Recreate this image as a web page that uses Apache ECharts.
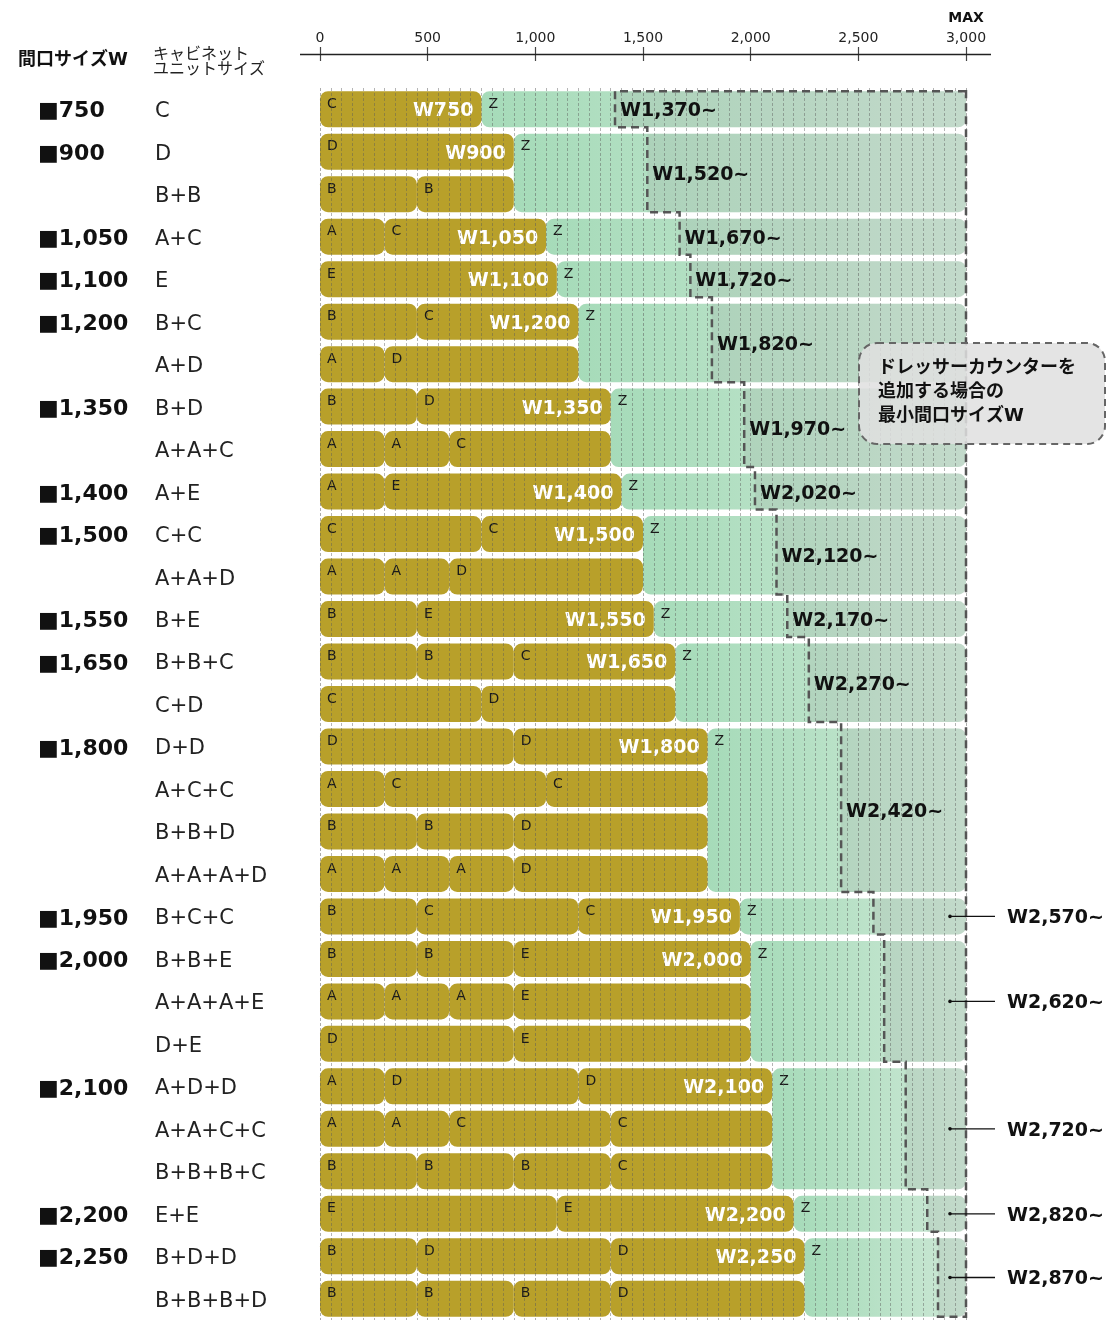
<!DOCTYPE html>
<html>
<head>
<meta charset="utf-8">
<script src="https://cdn.jsdelivr.net/npm/echarts@6/dist/echarts.min.js"></script>
<style>
html,body{margin:0;padding:0;background:#fff}
#chart{width:1110px;height:1322px}
</style>
</head>
<body>
<div id="chart"></div>
<script>
// Cabinet unit widths (mm)
const unitNames = ['A', 'B', 'C', 'D', 'E'];
const unitWidths = [300, 450, 750, 900, 1100];

// One row per cabinet combination, top to bottom
const rowUnits = ['C', 'D', 'B+B', 'A+C', 'E', 'B+C', 'A+D', 'B+D', 'A+A+C', 'A+E',
  'C+C', 'A+A+D', 'B+E', 'B+B+C', 'C+D', 'D+D', 'A+C+C', 'B+B+D', 'A+A+A+D',
  'B+C+C', 'B+B+E', 'A+A+A+E', 'D+E', 'A+D+D', 'A+A+C+C', 'B+B+B+C', 'E+E',
  'B+D+D', 'B+B+B+D'];

// Opening widths, how many combinations share each, and the minimum opening with a dresser counter
const groupSizes = [750, 900, 1050, 1100, 1200, 1350, 1400, 1500, 1550, 1650, 1800, 1950, 2000, 2100, 2200, 2250];
const groupRowCounts = [1, 2, 1, 1, 2, 2, 1, 2, 1, 2, 4, 1, 3, 3, 1, 2];
const dresserMinSizes = [1370, 1520, 1670, 1720, 1820, 1970, 2020, 2120, 2170, 2270, 2420, 2570, 2620, 2720, 2820, 2870];
const maxWidth = 3000;
const xTickStep = 500;
const xGridStep = 50;
const leaderLabelFrom = 1950;

const LATIN = '"DejaVu Sans", "Noto Sans CJK JP", sans-serif';
const BAR_RATIO = 0.8475;
const GOLD = '#b8a02a';
const fmt = v => v.toLocaleString('en-US');

// group membership of every row
const rowGroup = [], groupFirstRow = [], groupLastRow = [];
let rowCursor = 0;
groupRowCounts.forEach((n, g) => {
  groupFirstRow.push(rowCursor);
  for (let i = 0; i < n; i++) rowGroup.push(g);
  rowCursor += n;
  groupLastRow.push(rowCursor - 1);
});

// cabinet segments [start, end, row]
const segments = [], segLetters = [], segSizeLabels = [];
rowUnits.forEach((combo, row) => {
  const parts = combo.split('+');
  let x = 0;
  parts.forEach((u, i) => {
    const w = unitWidths[unitNames.indexOf(u)];
    const g = rowGroup[row];
    segments.push([x, x + w, row]);
    segLetters.push(u);
    segSizeLabels.push(i === parts.length - 1 && groupFirstRow[g] === row ? 'W' + fmt(groupSizes[g]) : '');
    x += w;
  });
});

// dresser zone per group [groupSize, max, firstRow, lastRow, dresserMin]
const zones = groupSizes.map((s, g) => [s, maxWidth, groupFirstRow[g], groupLastRow[g], dresserMinSizes[g]]);

function renderCabinet(params, api) {
  const i = params.dataIndex;
  const p0 = api.coord([api.value(0), api.value(2)]);
  const p1 = api.coord([api.value(1), api.value(2)]);
  const h = api.size([0, 1])[1] * BAR_RATIO;
  const top = p0[1] - h / 2;
  const children = [{
    type: 'rect',
    shape: { x: p0[0], y: top, width: p1[0] - p0[0], height: h, r: 8 },
    style: { fill: GOLD }
  }, {
    type: 'text',
    style: { text: segLetters[i], x: p0[0] + 7, y: top + 6, font: '14px ' + LATIN, fill: '#1a1a1a', stroke: null, textVerticalAlign: 'top' }
  }];
  if (segSizeLabels[i]) {
    children.push({
      type: 'text',
      style: { text: segSizeLabels[i], x: p1[0] - 8, y: p0[1] + 2, font: 'bold 19px ' + LATIN, fill: '#fff', stroke: null, textAlign: 'right', textVerticalAlign: 'middle' }
    });
  }
  return { type: 'group', children };
}

function renderZone(params, api) {
  const s = api.value(0), e = api.value(1), r0 = api.value(2), r1 = api.value(3), d = api.value(4);
  const h = api.size([0, 1])[1] * BAR_RATIO;
  const a = api.coord([s, r0]), b = api.coord([e, r1]), c = api.coord([d, r0]);
  const top = a[1] - h / 2, bottom = b[1] + h / 2;
  return {
    type: 'group',
    children: [{
      type: 'rect',
      shape: { x: a[0], y: top, width: b[0] - a[0], height: bottom - top, r: 8 },
      style: {
        fill: new echarts.graphic.LinearGradient(0, 0, 1, 0, [
          { offset: 0, color: '#a6dbb9' }, { offset: 1, color: '#cde8d6' }
        ])
      }
    }, {
      type: 'rect',
      shape: { x: c[0], y: top, width: b[0] - c[0], height: bottom - top, r: [0, 8, 8, 0] },
      style: { fill: 'rgba(150,150,150,0.17)' }
    }, {
      type: 'text',
      style: { text: 'Z', x: a[0] + 7, y: top + 6, font: '14px ' + LATIN, fill: '#1a1a1a', stroke: null, textVerticalAlign: 'top' }
    }]
  };
}

function renderDresserLabel(params, api) {
  const g = params.dataIndex;
  const d = api.value(0), r0 = api.value(1), r1 = api.value(2);
  const y = (api.coord([d, r0])[1] + api.coord([d, r1])[1]) / 2;
  const text = 'W' + fmt(d) + '~';
  if (groupSizes[g] < leaderLabelFrom) {
    const x = api.coord([d, r0])[0];
    return {
      type: 'text',
      style: { text, x: x + 5, y: y + 2, font: 'bold 19px ' + LATIN, fill: '#111', stroke: null, textVerticalAlign: 'middle' }
    };
  }
  const xe = api.coord([maxWidth, r0])[0];
  return {
    type: 'group',
    children: [{
      type: 'line',
      shape: { x1: xe - 16, y1: y, x2: xe + 29, y2: y },
      style: { stroke: '#111', lineWidth: 1.3 }
    }, {
      type: 'circle',
      shape: { cx: xe - 16, cy: y, r: 1.8 },
      style: { fill: '#111' }
    }, {
      type: 'text',
      style: { text, x: xe + 41, y: y + 2, font: 'bold 19px ' + LATIN, fill: '#111', stroke: null, textVerticalAlign: 'middle' }
    }]
  };
}

function renderOutline(params, api) {
  const h = api.size([0, 1])[1] * BAR_RATIO;
  const top = api.coord([0, 0])[1] - h / 2;
  const pts = [[api.coord([maxWidth, 0])[0], top]];
  let prevY = top;
  dresserMinSizes.forEach((d, g) => {
    const p = api.coord([d, groupLastRow[g]]);
    const bottom = p[1] + h / 2;
    pts.push([p[0], prevY]);
    pts.push([p[0], bottom]);
    prevY = bottom;
  });
  pts.push([api.coord([maxWidth, 0])[0], prevY]);
  return {
    type: 'polygon',
    shape: { points: pts },
    style: { fill: null, stroke: '#555', lineWidth: 2.5, lineDash: [8, 5] },
    z2: 10
  };
}

const chart = echarts.init(document.getElementById('chart'), null, { renderer: 'canvas' });

chart.setOption({
  animation: false,
  backgroundColor: '#fff',
  grid: { left: 320, top: 88, width: 646, height: 1232, containLabel: false },
  xAxis: [{
    type: 'value', min: 0, max: maxWidth, interval: xTickStep,
    position: 'top', offset: 34, z: 10,
    axisLine: { show: false },
    axisTick: { show: true, length: 7, inside: false, lineStyle: { color: '#444', width: 1.2 } },
    axisLabel: {
      margin: 9, fontSize: 14, fontFamily: LATIN, color: '#222',
      formatter: v => v === maxWidth ? '{max|MAX}\n{n|' + fmt(v) + '}' : fmt(v),
      rich: {
        max: { fontWeight: 'bold', fontSize: 14, fontFamily: LATIN, color: '#111', lineHeight: 26 },
        n: { fontSize: 14, fontFamily: LATIN, color: '#222', lineHeight: 14 }
      }
    },
    splitLine: { show: true, lineStyle: { color: 'rgba(90,90,90,0.5)', type: [3, 2], width: 1 } },
    minorTick: { show: false, splitNumber: xTickStep / xGridStep },
    minorSplitLine: { show: true, lineStyle: { color: 'rgba(90,90,90,0.45)', type: [3, 2], width: 1 } }
  }, {
    type: 'value', min: 0, max: maxWidth, interval: xTickStep,
    position: 'top', offset: 34,
    axisLine: { show: false },
    axisTick: { show: true, length: 7, inside: true, lineStyle: { color: '#444', width: 1.2 } },
    axisLabel: { show: false },
    splitLine: { show: false }
  }],
  yAxis: {
    type: 'category', data: rowUnits, inverse: true,
    axisLine: { show: false }, axisTick: { show: false }, splitLine: { show: false },
    axisLabel: {
      margin: 282, align: 'left', padding: [5, 0, 0, 0],
      formatter: (value, index) => {
        const g = rowGroup[index];
        const size = groupFirstRow[g] === index ? '■' + fmt(groupSizes[g]) : ' ';
        return '{s|' + size + '}{u|' + value + '}';
      },
      rich: {
        s: { fontFamily: LATIN, fontWeight: 'bold', fontSize: 22, color: '#111', width: 117 },
        u: { fontFamily: LATIN, fontSize: 21, color: '#222' }
      }
    }
  },
  graphic: [{
    type: 'line', z: 20,
    shape: { x1: 300, y1: 54.5, x2: 991, y2: 54.5 },
    style: { stroke: '#222', lineWidth: 1.5 }
  }, {
    type: 'text', left: 18, top: 51, z: 20,
    style: { text: '間口サイズW', font: 'bold 18px ' + LATIN, fill: '#111' }
  }, {
    type: 'text', left: 153, top: 47, z: 20,
    style: { text: 'キャビネット\nユニットサイズ', font: '16px ' + LATIN, fill: '#222', lineHeight: 15 }
  }, {
    type: 'rect', left: 858, top: 342, z: 100, zlevel: 1,
    shape: { width: 246, height: 101, r: 18 },
    style: { fill: 'rgba(224,224,224,0.86)', stroke: '#666', lineWidth: 2, lineDash: [7, 5] }
  }, {
    type: 'text', left: 878, top: 356, z: 101, zlevel: 1,
    style: { text: 'ドレッサーカウンターを\n追加する場合の\n最小間口サイズW', font: 'bold 18px ' + LATIN, fill: '#111', lineHeight: 24 }
  }],
  series: [{
    type: 'custom', name: 'zone', renderItem: renderZone,
    encode: { x: [0, 1, 4], y: [2, 3] }, data: zones, z: 2
  }, {
    type: 'custom', name: 'cabinet', renderItem: renderCabinet,
    encode: { x: [0, 1], y: 2 }, data: segments, z: 3
  }, {
    type: 'custom', name: 'outline', renderItem: renderOutline,
    encode: { x: 0, y: 1 }, data: [[0, 0]], z: 12
  }, {
    type: 'custom', name: 'dresserLabel', renderItem: renderDresserLabel,
    encode: { x: 0, y: [1, 2] },
    data: dresserMinSizes.map((d, g) => [d, groupFirstRow[g], groupLastRow[g]]), z: 13
  }]
});
</script>
</body>
</html>
